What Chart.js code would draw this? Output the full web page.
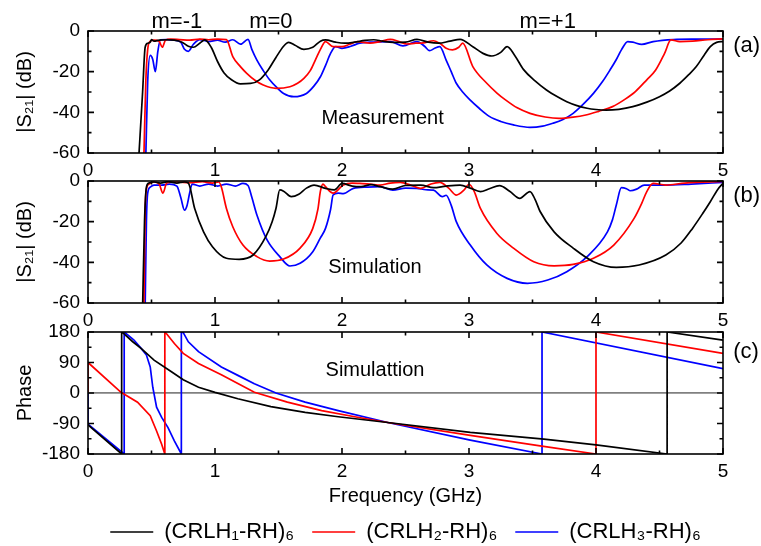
<!DOCTYPE html>
<html>
<head>
<meta charset="utf-8">
<script src="https://cdn.jsdelivr.net/npm/chart.js@4.4.0/dist/chart.umd.min.js"></script>
<style>
  html, body { margin: 0; padding: 0; background: #fff; overflow: hidden; }
  #wrap { position: relative; width: 761px; height: 546px; overflow: hidden; }
  #wrap canvas { position: absolute; left: 0; }
</style>
</head>
<body>
<div id="wrap">
  <canvas id="chartA" width="761" height="185" style="top:0px"></canvas>
  <canvas id="chartB" width="761" height="185" style="top:150px"></canvas>
  <canvas id="chartC" width="761" height="252" style="top:301px"></canvas>
</div>
<script>
// series names, tick labels
var seriesNames = ['(CRLH\u2081-RH)\u2086', '(CRLH\u2082-RH)\u2086', '(CRLH\u2083-RH)\u2086'];
var freqTickLabels = [0, 1, 2, 3, 4, 5];
var s21TickLabels = [0, -20, -40, -60];
var phaseTickLabels = [180, 90, 0, -90, -180];

// (a) measurement, |S21| in dB
var measF1 = [0.40, 0.43, 0.45, 0.47, 0.49, 0.50, 0.52, 0.56, 0.62, 0.68, 0.74, 0.79, 0.83, 0.88, 0.92, 0.97, 1.02, 1.07, 1.13, 1.20, 1.28, 1.35, 1.42, 1.48, 1.54, 1.58, 1.63, 1.70, 1.77, 1.83, 1.87, 1.95, 2.02, 2.10, 2.18, 2.25, 2.32, 2.40, 2.50, 2.59, 2.68, 2.76, 2.85, 2.93, 3.03, 3.11, 3.18, 3.25, 3.30, 3.36, 3.43, 3.52, 3.61, 3.70, 3.77, 3.85, 3.93, 4.00, 4.08, 4.18, 4.29, 4.40, 4.50, 4.58, 4.66, 4.73, 4.79, 4.85, 4.90, 4.95, 5.00];
var measdB1 = [-62, -30, -8, -6, -5.5, -4.2, -5, -4.5, -4.3, -4.5, -5.5, -7.5, -8, -6, -4.4, -8, -15, -20.5, -24, -26, -25.8, -24, -19, -13, -7.5, -5.6, -7, -9, -8, -5, -4.4, -5.5, -6, -5.5, -4.6, -4.3, -5, -5.6, -5.5, -4.1, -5.5, -6, -5, -4.1, -7.7, -11, -12.3, -10.5, -7.7, -12, -19, -24.5, -29, -32.5, -34.8, -36.7, -38, -38.6, -38.9, -38.5, -37.2, -35, -32.3, -29.5, -25.7, -21.5, -17.5, -12, -7.7, -5.6, -5.2];
var measF2 = [0.44, 0.455, 0.47, 0.49, 0.52, 0.56, 0.585, 0.61, 0.65, 0.72, 0.80, 0.88, 0.95, 1.02, 1.09, 1.14, 1.20, 1.25, 1.32, 1.38, 1.48, 1.59, 1.65, 1.70, 1.75, 1.79, 1.83, 1.87, 1.93, 2.00, 2.06, 2.12, 2.22, 2.30, 2.38, 2.45, 2.51, 2.58, 2.64, 2.72, 2.78, 2.82, 2.87, 2.92, 2.95, 3.03, 3.14, 3.22, 3.29, 3.38, 3.48, 3.60, 3.71, 3.82, 3.92, 4.02, 4.13, 4.23, 4.31, 4.40, 4.47, 4.54, 4.59, 4.66, 4.76, 4.88, 5.00];
var measdB2 = [-62, -25, -9, -5, -4.5, -5, -8, -4.5, -4, -4.2, -4.5, -4, -4.3, -4, -4.2, -12.6, -17.5, -20.8, -24.5, -26.6, -28.2, -27.4, -25.7, -23.3, -19.5, -14.3, -9, -5.2, -7.7, -7.7, -6.5, -5.2, -6, -5.2, -4.1, -5.2, -6.4, -6, -5.8, -4.8, -6.5, -8.5, -9.3, -8, -6, -17.5, -25.7, -30.5, -34, -37.8, -40.5, -42.3, -43, -42.4, -41.3, -39.5, -37.2, -33.5, -29.8, -24, -19.2, -11, -4.4, -5.2, -5, -4.3, -3.9];
var measF3 = [0.455, 0.47, 0.49, 0.51, 0.53, 0.55, 0.57, 0.62, 0.68, 0.73, 0.76, 0.79, 0.83, 0.88, 0.95, 1.02, 1.08, 1.14, 1.20, 1.26, 1.29, 1.33, 1.38, 1.43, 1.49, 1.54, 1.62, 1.72, 1.78, 1.83, 1.87, 1.91, 1.95, 2.00, 2.07, 2.14, 2.22, 2.30, 2.38, 2.48, 2.59, 2.65, 2.69, 2.73, 2.77, 2.82, 2.86, 2.90, 2.95, 3.01, 3.08, 3.16, 3.25, 3.35, 3.48, 3.58, 3.66, 3.74, 3.82, 3.90, 3.98, 4.05, 4.11, 4.16, 4.20, 4.25, 4.29, 4.36, 4.45, 4.61, 4.80, 5.00];
var measdB3 = [-62, -25, -12, -14, -20, -10, -4.3, -4.2, -4.5, -5.5, -9, -10, -6.5, -4.2, -5.2, -4.5, -5.5, -4.3, -6.5, -4.1, -9, -14.3, -19.5, -24, -28, -30.7, -32.3, -30.7, -27, -22.5, -17, -11, -7.7, -8.5, -7.5, -6, -5.5, -5.3, -5.2, -7.3, -5.2, -7.5, -9.7, -8.5, -7.7, -14.3, -20, -25.7, -30, -34, -38, -42, -44.5, -46.2, -47.4, -46.8, -45.4, -43.5, -40.5, -36, -30.7, -25, -19.2, -14, -9.3, -5.2, -5.5, -6.6, -5.2, -4.2, -4, -3.9];

// (b) simulation, |S21| in dB
var simF1 = [0.43, 0.445, 0.46, 0.48, 0.52, 0.57, 0.63, 0.70, 0.76, 0.79, 0.84, 0.91, 0.98, 1.09, 1.19, 1.30, 1.40, 1.45, 1.48, 1.51, 1.54, 1.60, 1.66, 1.72, 1.78, 1.87, 1.94, 2.00, 2.08, 2.15, 2.23, 2.30, 2.40, 2.50, 2.62, 2.72, 2.82, 2.93, 3.01, 3.09, 3.16, 3.24, 3.32, 3.40, 3.48, 3.52, 3.56, 3.67, 3.82, 3.98, 4.16, 4.34, 4.55, 4.67, 4.76, 4.84, 4.90, 4.96, 5.00];
var simdB1 = [-62, -20, -3, -1, -0.5, -1, -0.3, -1, -0.5, -1, -13.5, -25, -32.3, -38, -38.5, -36.4, -27.4, -20, -13.5, -4.4, -5, -7.7, -6.5, -3.5, -2, -3.6, -4.4, -1.2, -2.5, -2.8, -1.8, -2.8, -4, -2.2, -2, -3.3, -2.5, -2, -3.5, -5.2, -3.8, -2.3, -5, -8.5, -5.2, -9, -15, -25, -33, -39.7, -42.5, -41.3, -36.4, -30.5, -23.3, -16, -10.2, -4, -1.1];
var simF2 = [0.44, 0.45, 0.46, 0.48, 0.52, 0.56, 0.59, 0.62, 0.70, 0.80, 0.90, 0.98, 1.03, 1.05, 1.09, 1.14, 1.22, 1.33, 1.43, 1.54, 1.67, 1.77, 1.81, 1.83, 1.85, 1.87, 1.93, 2.01, 2.08, 2.14, 2.22, 2.30, 2.38, 2.46, 2.54, 2.62, 2.70, 2.77, 2.84, 2.90, 2.96, 3.00, 3.04, 3.09, 3.22, 3.35, 3.51, 3.67, 3.82, 3.98, 4.14, 4.30, 4.36, 4.40, 4.45, 4.55, 4.70, 5.00];
var simdB2 = [-62, -15, -4, -1.5, -0.5, -1.5, -6, -1, -0.5, -0.8, -0.3, -1, -0.5, -3, -13.5, -22.5, -31.5, -37.2, -39.4, -38.4, -33, -23.3, -14, -5, -1.5, -2.8, -6, -2, -1, -1.2, -1.5, -2, -1, -0.7, -2, -3.6, -1.5, -0.7, -3.5, -6.9, -4.5, -1.6, -5, -13.5, -25.8, -33, -39.7, -41.7, -41, -38, -31.5, -18.4, -11, -5.2, -1.2, -2, -1, -0.2];
var simF3 = [0.45, 0.46, 0.47, 0.49, 0.52, 0.58, 0.64, 0.70, 0.73, 0.76, 0.78, 0.80, 0.82, 0.88, 0.95, 1.02, 1.09, 1.16, 1.22, 1.26, 1.29, 1.33, 1.41, 1.51, 1.59, 1.67, 1.77, 1.83, 1.87, 1.91, 1.93, 1.97, 2.01, 2.09, 2.20, 2.30, 2.40, 2.50, 2.59, 2.66, 2.72, 2.79, 2.82, 2.86, 2.90, 3.01, 3.14, 3.30, 3.46, 3.62, 3.77, 3.93, 4.09, 4.13, 4.16, 4.20, 4.24, 4.27, 4.32, 4.38, 4.53, 4.75, 5.00];
var simdB3 = [-62, -20, -6, -3, -2, -2, -1.5, -2.5, -8, -14.3, -12, -6, -1.5, -2.5, -1.5, -2.5, -1.5, -2.5, -1.2, -2.2, -8, -16.7, -29, -37.2, -41.8, -40.5, -34.8, -28, -23.3, -14, -6.9, -6, -6.2, -3.6, -3, -2.8, -4.5, -3.5, -3.6, -4.3, -4.5, -7.7, -7, -12, -20, -31.5, -41.3, -47.9, -50.3, -48.7, -44.6, -37.2, -25, -19, -11.8, -3.3, -3.8, -4.8, -4, -2, -2, -1.5, -0.7];

// (c) simulation, phase in degrees
var phF1 = [0, 0.265, 0.265, 0.28, 0.35, 0.42, 0.52, 0.66, 0.75, 0.87, 1.00, 1.18, 1.44, 1.71, 1.97, 2.36, 3.01, 3.59, 4.00, 4.56, 4.56, 5.00];
var phDeg1 = [-94, -180, 180, 176, 152, 131, 97, 62, 39, 17, 2, -17, -40, -57, -70, -87, -116, -136, -153, -180, 180, 156];
var phF2 = [0, 0, 0.26, 0.39, 0.49, 0.54, 0.58, 0.605, 0.605, 0.62, 0.68, 0.75, 0.87, 1.05, 1.18, 1.31, 1.57, 1.84, 2.10, 2.36, 3.01, 3.56, 4.00, 4.00, 5.00];
var phDeg2 = [0, 90, 2, -27, -67, -112, -151, -180, 180, 174, 146, 117, 87, 54, 28, 2, -27, -52, -70, -87, -125, -156, -180, 180, 117];
var phF3 = [0, 0, 0.285, 0.285, 0.36, 0.42, 0.46, 0.49, 0.51, 0.54, 0.58, 0.63, 0.68, 0.735, 0.735, 0.75, 0.79, 0.87, 1.05, 1.18, 1.31, 1.48, 1.71, 1.97, 2.36, 3.01, 3.575, 3.575, 5.00];
var phDeg3 = [0, -92, -180, 180, 157, 131, 112, 77, 17, -42, -72, -102, -141, -180, 180, 178, 151, 122, 77, 52, 27, 0, -27, -52, -87, -139, -180, 180, 72];

var seriesColors = ['#000000', '#ff0000', '#0000ff'];

Chart.defaults.font.family = '"Liberation Sans", Arial, sans-serif';
Chart.defaults.color = '#000';

function pairs(xs, ys) {
    return xs.map(function (x, i) { return { x: x, y: ys[i] }; });
}

function makeDatasets(sets, smooth) {
    return sets.map(function (s, i) {
        return {
            label: seriesNames[i],
            data: pairs(s[0], s[1]),
            borderColor: seriesColors[i],
            backgroundColor: seriesColors[i],
            borderWidth: 1.7,
            pointRadius: 0,
            fill: false,
            tension: 0,
            cubicInterpolationMode: smooth ? 'monotone' : 'default'
        };
    });
}

// box round the plot, inward ticks on all four sides, and the text notes
function makeFrame(notes) {
    return {
        id: 'frame',
        afterDatasetsDraw: function (chart) {
            var ctx = chart.ctx, a = chart.chartArea;
            var xs = chart.scales.x, ys = chart.scales.y;
            ctx.save();
            ctx.strokeStyle = '#000';
            ctx.lineWidth = 1.6;
            ctx.strokeRect(a.left, a.top, a.right - a.left, a.bottom - a.top);
            ctx.beginPath();
            xs.ticks.forEach(function (t) {
                var p = xs.getPixelForValue(t.value);
                var len = t.label !== '' ? 6 : 3.5;
                ctx.moveTo(p, a.bottom); ctx.lineTo(p, a.bottom - len);
                ctx.moveTo(p, a.top); ctx.lineTo(p, a.top + len);
            });
            ys.ticks.forEach(function (t) {
                var p = ys.getPixelForValue(t.value);
                var len = t.label !== '' ? 6 : 3.5;
                ctx.moveTo(a.left, p); ctx.lineTo(a.left + len, p);
                ctx.moveTo(a.right, p); ctx.lineTo(a.right - len, p);
            });
            ctx.stroke();
            ctx.fillStyle = '#000';
            ctx.textBaseline = 'middle';
            notes.forEach(function (n) {
                ctx.font = n.size + 'px "Liberation Sans", Arial, sans-serif';
                ctx.textAlign = n.align || 'center';
                ctx.fillText(n.text, xs.getPixelForValue(n.x), ys.getPixelForValue(n.y));
            });
            ctx.restore();
        }
    };
}

function xAxis(height, title) {
    return {
        type: 'linear',
        min: 0,
        max: 5,
        grid: { display: false, drawTicks: false },
        border: { display: false },
        ticks: {
            stepSize: 0.5,
            autoSkip: false,
            maxRotation: 0,
            padding: 6,
            font: { size: 19 },
            callback: function (v) { return freqTickLabels.indexOf(v) >= 0 ? v : ''; }
        },
        title: title || { display: false },
        afterFit: function (s) { s.height = height; }
    };
}

function yAxis(min, max, step, labels, title, zeroLine) {
    return {
        min: min,
        max: max,
        grid: zeroLine ? {
            display: true,
            drawTicks: false,
            lineWidth: 1.8,
            color: function (c) { return c.tick && c.tick.value === 0 ? '#808080' : 'rgba(0,0,0,0)'; }
        } : { display: false, drawTicks: false },
        border: { display: false },
        ticks: {
            stepSize: step,
            autoSkip: false,
            padding: 8,
            font: { size: 19 },
            callback: function (v) { return labels.indexOf(v) >= 0 ? v : ''; }
        },
        title: { display: true, text: title, font: { size: 20 }, padding: { top: 13, bottom: 0 } },
        afterFit: function (s) { s.width = 88; }
    };
}

function baseOptions(scales, legend) {
    return {
        responsive: false,
        animation: false,
        events: [],
        layout: { padding: { top: 31, right: 38, left: 0, bottom: 0 } },
        scales: scales,
        plugins: {
            legend: legend || { display: false },
            tooltip: { enabled: false }
        }
    };
}

new Chart(document.getElementById('chartA'), {
    type: 'line',
    data: { datasets: makeDatasets([[measF1, measdB1], [measF2, measdB2], [measF3, measdB3]], true) },
    options: baseOptions({
        x: xAxis(32),
        y: yAxis(-60, 0, 10, s21TickLabels, '|S\u2082\u2081| (dB)', false)
    }),
    plugins: [makeFrame([
        { text: 'm=-1', x: 0.70, y: 4.4, size: 22 },
        { text: 'm=0', x: 1.44, y: 4.4, size: 22 },
        { text: 'm=+1', x: 3.62, y: 4.4, size: 22 },
        { text: 'Measurement', x: 2.32, y: -42.8, size: 20 },
        { text: '(a)', x: 5.08, y: -7.4, size: 22, align: 'left' }
    ])]
});

new Chart(document.getElementById('chartB'), {
    type: 'line',
    data: { datasets: makeDatasets([[simF1, simdB1], [simF2, simdB2], [simF3, simdB3]], true) },
    options: baseOptions({
        x: xAxis(32),
        y: yAxis(-60, 0, 10, s21TickLabels, '|S\u2082\u2081| (dB)', false)
    }),
    plugins: [makeFrame([
        { text: 'Simulation', x: 2.26, y: -42.3, size: 20 },
        { text: '(b)', x: 5.08, y: -7.4, size: 22, align: 'left' }
    ])]
});

// legend kept to the plot width (fullSize off) so it centres under the plot
new Chart(document.getElementById('chartC'), {
    type: 'line',
    data: { datasets: makeDatasets([[phF1, phDeg1], [phF2, phDeg2], [phF3, phDeg3]], false) },
    options: baseOptions({
        x: xAxis(49, { display: true, text: 'Frequency (GHz)', font: { size: 20 }, padding: { top: 0, bottom: -5 } }),
        y: yAxis(-180, 180, 45, phaseTickLabels, 'Phase', true)
    }, {
        display: true,
        position: 'bottom',
        fullSize: false,
        labels: {
            color: '#000',
            font: { size: 22 },
            usePointStyle: true,
            pointStyle: 'line',
            pointStyleWidth: 43,
            padding: 18
        }
    }),
    plugins: [makeFrame([
        { text: 'Simulattion', x: 2.26, y: 67, size: 20 },
        { text: '(c)', x: 5.08, y: 120, size: 22, align: 'left' }
    ])]
});
</script>
</body>
</html>
